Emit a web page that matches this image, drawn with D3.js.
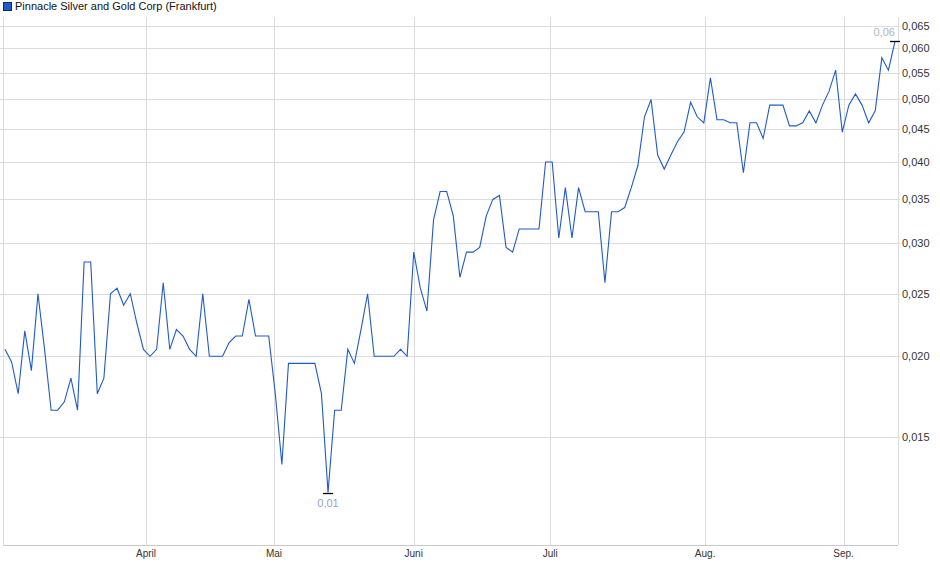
<!DOCTYPE html>
<html><head><meta charset="utf-8">
<script src="https://cdn.jsdelivr.net/npm/d3@7"></script>
<style>body{margin:0;background:#fff}text{font-family:Arial,"Liberation Sans",sans-serif}</style>
</head><body>
<svg id="chart" width="940" height="579"></svg>
<script>
// closing prices, one per trading day
const prices = [0.0205,0.0196,0.0175,0.0219,0.019,0.025,0.0205,0.0165,0.0165,0.017,
0.0185,0.0165,0.028,0.028,0.0175,0.0185,0.025,0.0255,0.024,0.025,
0.0225,0.0205,0.02,0.0205,0.026,0.0205,0.022,0.0215,0.0205,0.02,
0.025,0.02,0.02,0.02,0.021,0.0215,0.0215,0.0245,0.0215,0.0215,
0.0215,0.0175,0.0136,0.0195,0.0195,0.0195,0.0195,0.0195,0.0175,0.0123,
0.0165,0.0165,0.0205,0.0195,0.022,0.025,0.02,0.02,0.02,0.02,
0.0205,0.02,0.029,0.0255,0.0235,0.0325,0.036,0.036,0.033,0.0265,
0.029,0.029,0.0295,0.033,0.035,0.0355,0.0295,0.029,0.0315,0.0315,
0.0315,0.0315,0.040,0.040,0.0305,0.0365,0.0305,0.0365,0.0335,0.0335,
0.0335,0.026,0.0335,0.0335,0.034,0.0365,0.0395,0.047,0.050,0.041,
0.039,0.041,0.043,0.0445,0.0495,0.047,0.046,0.054,0.0465,0.0465,
0.046,0.046,0.0385,0.046,0.046,0.0435,0.049,0.049,0.049,0.0455,
0.0455,0.046,0.048,0.046,0.049,0.0515,0.0555,0.0445,0.049,0.051,
0.049,0.046,0.048,0.058,0.0555,0.0615];
const monthLabels = ["April","Mai","Juni","Juli","Aug.","Sep."];
const monthIndex = [21.4,40.8,62.0,82.7,106.2,127.2];
const yTicks = [0.015,0.020,0.025,0.030,0.035,0.040,0.045,0.050,0.055,0.060,0.065];
const title = "Pinnacle Silver and Gold Corp (Frankfurt)";

const svg = d3.select("#chart");
const plotLeft = 5, plotRight = 898, plotTop = 17, plotBottom = 545;

const x = d3.scaleLinear().domain([0, prices.length - 1]).range([plotLeft, 895]);
const y = d3.scaleLog().domain([0.0102, 0.0671]).range([plotBottom, plotTop]);
const fmt = v => d3.format(".3f")(v).replace(".", ",");

// grid
svg.append("g").selectAll("line").data(yTicks).join("line")
  .attr("x1", 0).attr("x2", plotRight + 2)
  .attr("y1", d => Math.round(y(d)) + 0.5).attr("y2", d => Math.round(y(d)) + 0.5)
  .attr("stroke", "#dcdcdc");
svg.append("g").selectAll("line").data(monthIndex).join("line")
  .attr("x1", d => Math.round(x(d)) + 0.5).attr("x2", d => Math.round(x(d)) + 0.5)
  .attr("y1", plotTop).attr("y2", plotBottom)
  .attr("stroke", "#dcdcdc");
svg.append("line").attr("x1", 3.5).attr("x2", 3.5).attr("y1", plotTop).attr("y2", plotBottom).attr("stroke", "#dcdcdc");
svg.append("line").attr("x1", plotRight + 0.5).attr("x2", plotRight + 0.5).attr("y1", plotTop).attr("y2", plotBottom).attr("stroke", "#dcdcdc");
svg.append("line").attr("x1", 3).attr("x2", plotRight).attr("y1", plotBottom + 0.5).attr("y2", plotBottom + 0.5).attr("stroke", "#c8c8c8");

// y labels
svg.append("g").selectAll("text").data(yTicks).join("text")
  .attr("x", 902).attr("y", d => y(d) + 4)
  .attr("font-size", 11).attr("fill", "#333").text(fmt);

// x labels
svg.append("g").selectAll("text").data(monthIndex).join("text")
  .attr("x", d => x(d)).attr("y", 557).attr("text-anchor", "middle")
  .attr("font-size", 10).attr("fill", "#333")
  .text((d, i) => monthLabels[i]);

// price line
svg.append("path").datum(prices)
  .attr("d", d3.line().x((d, i) => x(i)).y(d => y(d)))
  .attr("fill", "none").attr("stroke", "#1f5bc6").attr("stroke-width", 1.1);

// min / max markers
const iMin = d3.minIndex(prices), iMax = d3.maxIndex(prices);
[iMin, iMax].forEach(i => {
  svg.append("line").attr("x1", x(i) - 5).attr("x2", x(i) + 5)
    .attr("y1", Math.round(y(prices[i])) + 0.5).attr("y2", Math.round(y(prices[i])) + 0.5)
    .attr("stroke", "#000").attr("stroke-width", 1.3);
});
svg.append("text").attr("x", x(iMin)).attr("y", y(prices[iMin]) + 14)
  .attr("text-anchor", "middle").attr("font-size", 11).attr("fill", "#8da8cf").text("0,01");
svg.append("text").attr("x", x(iMax)).attr("y", y(prices[iMax]) - 5)
  .attr("text-anchor", "end").attr("font-size", 11).attr("fill", "#aab6c8").text("0,06");

// legend
svg.append("rect").attr("x", 3.5).attr("y", 2.5).attr("width", 8).attr("height", 8)
  .attr("fill", "#1f5bc6").attr("stroke", "#0b2a66");
svg.append("text").attr("x", 15).attr("y", 10).attr("font-size", 11).attr("fill", "#111").text(title);
</script>
</body></html>
